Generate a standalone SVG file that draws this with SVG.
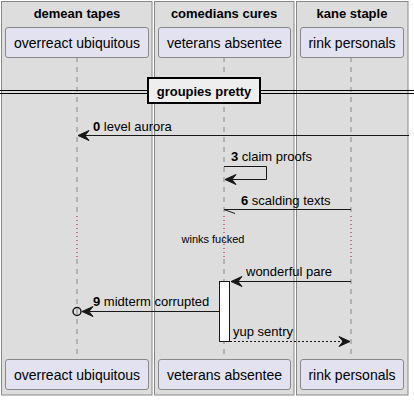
<svg xmlns="http://www.w3.org/2000/svg" width="414" height="400" viewBox="0 0 414 400">
<defs>
<style>
.box{fill:#DDDDDD;stroke:#888888;stroke-width:1}
.btitle{font-family:"Liberation Sans",Arial,sans-serif;font-size:13px;font-weight:bold;fill:#000;text-anchor:middle}
.part rect{fill:#E2E2F0;stroke:#888888;stroke-width:1}
.part text{font-family:"Liberation Sans",Arial,sans-serif;font-size:14px;fill:#000;text-anchor:middle}
.life{stroke:#888888;stroke-width:1;stroke-dasharray:5,5;fill:none}
.delay{stroke:#C0003A;stroke-width:1;stroke-dasharray:1,3;fill:none}
.msg{stroke:#181818;stroke-width:1;fill:none}
.dash{stroke:#181818;stroke-width:1;fill:none;stroke-dasharray:2,2}
.head{fill:#181818;stroke:#181818;stroke-width:1}
.lbl{font-family:"Liberation Sans",Arial,sans-serif;font-size:13px;fill:#000}
.num{font-weight:bold}
</style>
</defs>
<rect width="414" height="400" fill="#FFFFFF"/>
<g id="boxes">
<rect class="box" x="1.5" y="1.5" width="150.5" height="393.5"/>
<text class="btitle" x="77" y="18">demean tapes</text>
<rect class="box" x="154.5" y="1.5" width="139.5" height="393.5"/>
<text class="btitle" x="224" y="18">comedians cures</text>
<rect class="box" x="296.5" y="1.5" width="111.5" height="393.5"/>
<text class="btitle" x="352" y="18">kane staple</text>
</g>
<g id="lifelines">
<line class="life" x1="77" y1="57" x2="77" y2="216"/>
<line class="delay" x1="77" y1="216" x2="77" y2="259"/>
<line class="life" x1="77" y1="259" x2="77" y2="359"/>
<line class="life" x1="224" y1="57" x2="224" y2="216"/>
<line class="delay" x1="224" y1="216" x2="224" y2="259"/>
<line class="life" x1="224" y1="259" x2="224" y2="359"/>
<line class="life" x1="351" y1="57" x2="351" y2="216"/>
<line class="delay" x1="351" y1="216" x2="351" y2="259"/>
<line class="life" x1="351" y1="259" x2="351" y2="359"/>
</g>
<g id="overreact_ubiquitous" class="part">
<rect x="5.5" y="27.5" width="143" height="30" rx="2.5"/>
<text x="77" y="47.5">overreact ubiquitous</text>
<rect x="5.5" y="359.5" width="143" height="30" rx="2.5"/>
<text x="77" y="379.5">overreact ubiquitous</text>
</g>
<g id="veterans_absentee" class="part">
<rect x="158.5" y="27.5" width="132" height="30" rx="2.5"/>
<text x="224.5" y="47.5">veterans absentee</text>
<rect x="158.5" y="359.5" width="132" height="30" rx="2.5"/>
<text x="224.5" y="379.5">veterans absentee</text>
</g>
<g id="rink_personals" class="part">
<rect x="300.5" y="27.5" width="103" height="30" rx="2.5"/>
<text x="352" y="47.5">rink personals</text>
<rect x="300.5" y="359.5" width="103" height="30" rx="2.5"/>
<text x="352" y="379.5">rink personals</text>
</g>
<g id="divider">
<line x1="0" y1="90.5" x2="414" y2="90.5" stroke="#000" stroke-width="1"/>
<line x1="0" y1="93.5" x2="414" y2="93.5" stroke="#000" stroke-width="1"/>
<rect x="148" y="78" width="112" height="25" fill="#EEEEEE" stroke="#000" stroke-width="2"/>
<text class="btitle" x="204" y="96">groupies pretty</text>
</g>
<g id="activation">
<rect x="219.5" y="281.5" width="10" height="60" fill="#FFFFFF" stroke="#181818" stroke-width="1"/>
</g>
<g id="connectors">
<line class="msg" x1="409" y1="135.5" x2="78" y2="135.5"/>
<polygon class="head" points="89,130.5 78,135.5 89,140.5 85,135.5"/>
<text class="lbl" x="93" y="131"><tspan class="num">0</tspan> level aurora</text>

<polyline class="msg" points="224,166.5 266.5,166.5 266.5,179.5 225,179.5"/>
<polygon class="head" points="236,174.5 225,179.5 236,184.5 232,179.5"/>
<text class="lbl" x="231" y="161"><tspan class="num">3</tspan> claim proofs</text>

<line class="msg" x1="351" y1="209.5" x2="224" y2="209.5"/>
<line class="msg" x1="224" y1="209.5" x2="235" y2="213.5"/>
<text class="lbl" x="241" y="205"><tspan class="num">6</tspan> scalding texts</text>

<text class="lbl" x="213" y="243" text-anchor="middle" style="font-size:11px">winks fucked</text>

<line class="msg" x1="351" y1="281.5" x2="231" y2="281.5"/>
<polygon class="head" points="242,276.5 231,281.5 242,286.5 238,281.5"/>
<text class="lbl" x="246" y="276">wonderful pare</text>

<line class="msg" x1="219" y1="311.5" x2="82" y2="311.5"/>
<polygon class="head" points="93,306.5 82,311.5 93,316.5 89,311.5"/>
<circle cx="77" cy="311.5" r="4" fill="none" stroke="#181818" stroke-width="1.5"/>
<text class="lbl" x="93" y="306"><tspan class="num">9</tspan> midterm corrupted</text>

<line class="dash" x1="230" y1="341.5" x2="349" y2="341.5"/>
<polygon class="head" points="339,336.5 350,341.5 339,346.5 343,341.5"/>
<text class="lbl" x="233" y="336">yup sentry</text>
</g>
</svg>
